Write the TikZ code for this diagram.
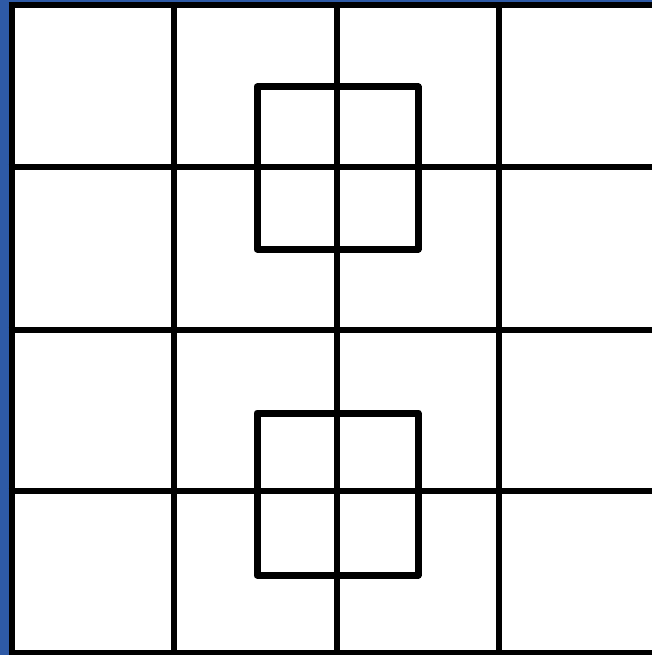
\documentclass[tikz,border=0pt]{standalone}
\definecolor{frameblue}{HTML}{2E5AA6}
\begin{document}
\begin{tikzpicture}[x=1pt,y=-1pt,
  gridline/.style={line width=6pt,black},
  sqline/.style={line width=7pt,black,line join=round}]
\useasboundingbox (0,0) rectangle (652,655);
\fill[white] (0,0) rectangle (652,655);
\fill[frameblue] (0,0) rectangle (9,655);
\fill[frameblue] (0,0) rectangle (652,3);
\begin{scope}
\clip (0,0) rectangle (652,655);
% vertical lines
\foreach \x in {11.5,174,337,498.5} \draw[gridline] (\x,2.5) -- (\x,656);
% horizontal lines
\foreach \y in {5.5,167,329.5,491,653} \draw[gridline] (8.5,\y) -- (652,\y);
% squares
\draw[sqline] (257,87) rectangle (418,249);
\draw[sqline] (257,413) rectangle (418,575);
\end{scope}
\end{tikzpicture}
\end{document}
